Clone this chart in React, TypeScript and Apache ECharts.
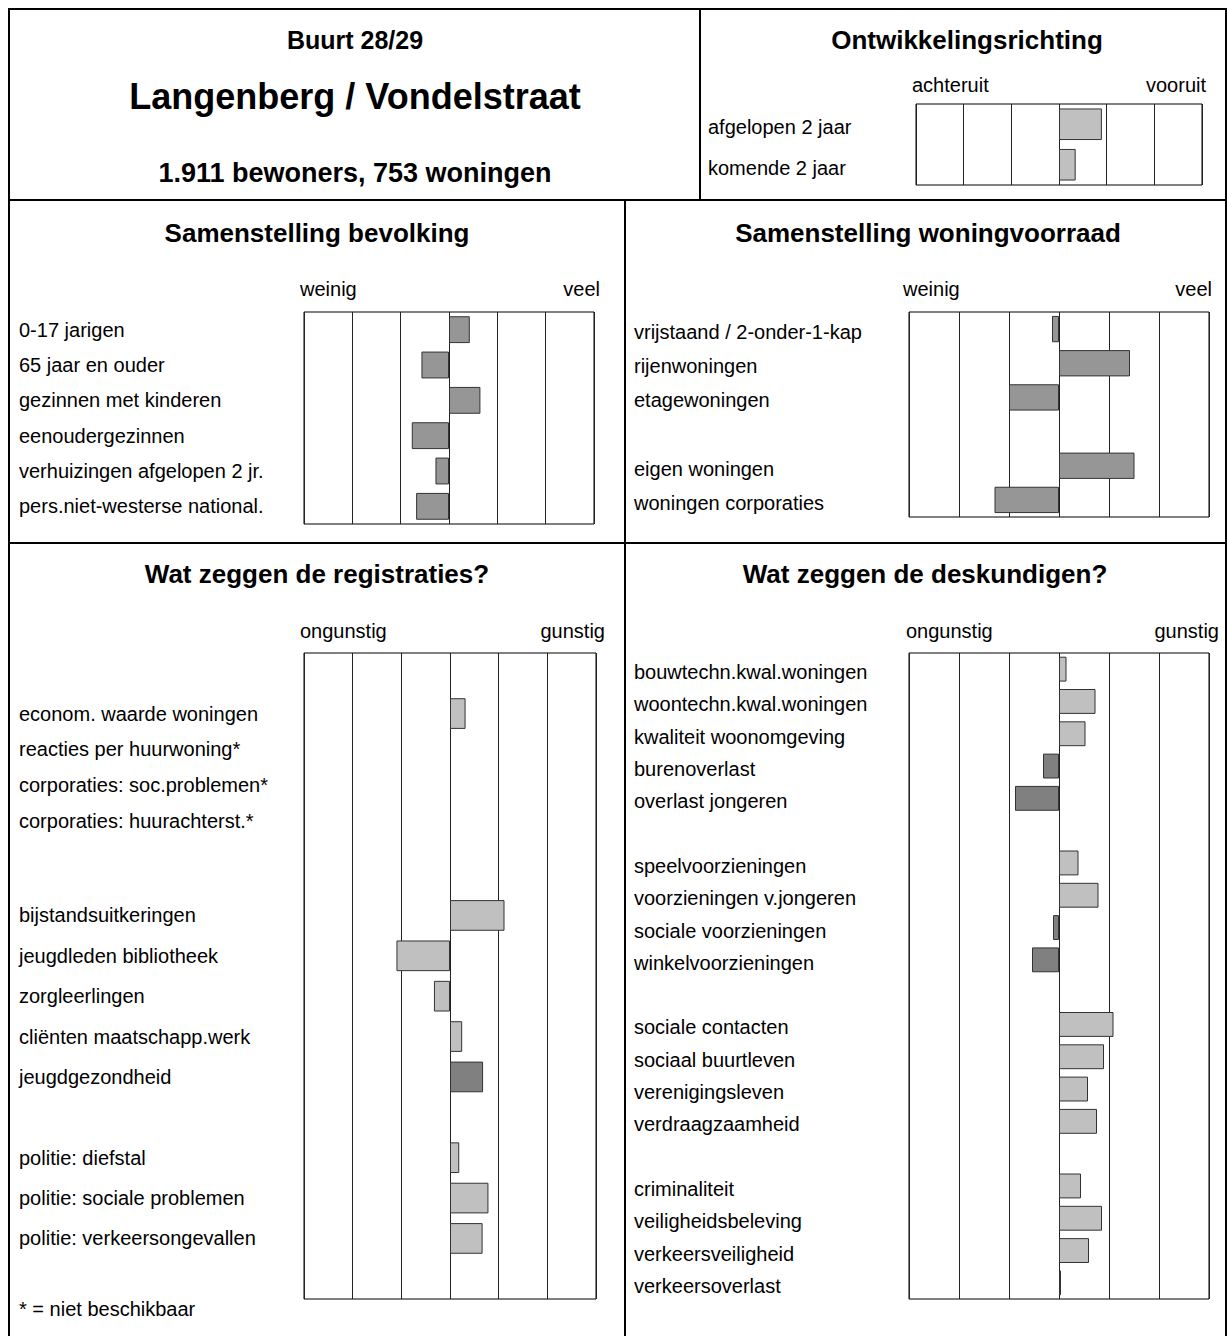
import React, { useEffect, useRef } from 'react';
import * as echarts from 'echarts';

// ---------- data ----------
const richtingCats = ['afgelopen 2 jaar', 'komende 2 jaar'];
const richtingVals = [0.9, 0.35];

const bevolkingCats = [
  '0-17 jarigen',
  '65 jaar en ouder',
  'gezinnen met kinderen',
  'eenoudergezinnen',
  'verhuizingen afgelopen 2 jr.',
  'pers.niet-westerse national.',
];
const bevolkingVals = [0.43, -0.57, 0.65, -0.77, -0.28, -0.68];

const woningCats = [
  'vrijstaand / 2-onder-1-kap',
  'rijenwoningen',
  'etagewoningen',
  '',
  'eigen woningen',
  'woningen corporaties',
];
const woningVals = [-0.14, 1.42, -1.0, null, 1.51, -1.29];

const registratieCats = [
  '',
  'econom. waarde woningen',
  'reacties per huurwoning*',
  'corporaties: soc.problemen*',
  'corporaties: huurachterst.*',
  '',
  'bijstandsuitkeringen',
  'jeugdleden bibliotheek',
  'zorgleerlingen',
  'cliënten maatschapp.werk',
  'jeugdgezondheid',
  '',
  'politie: diefstal',
  'politie: sociale problemen',
  'politie: verkeersongevallen',
  '',
];
const registratieVals = [null, 0.32, null, null, null, null, 1.12, -1.1, -0.33, 0.25, 0.68, null, 0.19, 0.79, 0.67, null];
const registratieDark = ['jeugdgezondheid'];

const deskundigenCats = [
  'bouwtechn.kwal.woningen',
  'woontechn.kwal.woningen',
  'kwaliteit woonomgeving',
  'burenoverlast',
  'overlast jongeren',
  '',
  'speelvoorzieningen',
  'voorzieningen v.jongeren',
  'sociale voorzieningen',
  'winkelvoorzieningen',
  '',
  'sociale contacten',
  'sociaal buurtleven',
  'verenigingsleven',
  'verdraagzaamheid',
  '',
  'criminaliteit',
  'veiligheidsbeleving',
  'verkeersveiligheid',
  'verkeersoverlast',
];
const deskundigenVals = [0.15, 0.73, 0.53, -0.32, -0.88, null, 0.39, 0.79, -0.12, -0.54, null, 1.09, 0.9, 0.58, 0.76, null, 0.44, 0.86, 0.6, 0.04];
const deskundigenDark = ['burenoverlast', 'overlast jongeren', 'sociale voorzieningen', 'winkelvoorzieningen'];

// ---------- layout / style ----------
const FONT = '"Liberation Sans", Arial, sans-serif';
const LABEL_SIZE = 20;
const END_SIZE = 20;
const TITLE_SIZE = 26;
const LIGHT = '#c0c0c0';
const MID = '#969696';
const DARK = '#808080';

type Panel = {
  cats: string[];
  vals: (number | null)[];
  grid: { left: number; top: number; width: number; height: number };
  labelX: number;
  labelDy: number;
  color: (name: string) => string;
  gap: string;
  lifts?: Record<number, number>;
};

const panels: Panel[] = [
  {
    cats: richtingCats,
    vals: richtingVals,
    grid: { left: 916, top: 104, width: 286, height: 81 },
    labelX: 708,
    labelDy: 3,
    color: () => LIGHT,
    gap: '22%',
  },
  {
    cats: bevolkingCats,
    vals: bevolkingVals,
    grid: { left: 304, top: 312, width: 290, height: 212 },
    labelX: 19,
    labelDy: 0,
    color: () => MID,
    gap: '24%',
  },
  {
    cats: woningCats,
    vals: woningVals,
    grid: { left: 909, top: 312, width: 300, height: 205 },
    labelX: 634,
    labelDy: 3,
    color: () => MID,
    gap: '23%',
  },
  {
    cats: registratieCats,
    vals: registratieVals,
    grid: { left: 304, top: 653, width: 292, height: 646 },
    labelX: 19,
    labelDy: 0,
    color: (n) => (registratieDark.includes(n) ? DARK : LIGHT),
    gap: '24%',
    lifts: { 2: 9, 3: 18, 4: 27 },
  },
  {
    cats: deskundigenCats,
    vals: deskundigenVals,
    grid: { left: 909, top: 653, width: 300, height: 646 },
    labelX: 634,
    labelDy: 3,
    color: (n) => (deskundigenDark.includes(n) ? DARK : LIGHT),
    gap: '23%',
  },
];

function txt(text: string, x: number, y: number, size: number, bold: boolean, align: string = 'left') {
  return {
    type: 'text',
    x,
    y,
    z: 10,
    style: {
      text,
      fill: '#000',
      fontSize: size,
      fontWeight: bold ? 'bold' : 'normal',
      fontFamily: FONT,
      align,
      verticalAlign: 'middle',
    },
  };
}

function ln(x1: number, y1: number, x2: number, y2: number) {
  return {
    type: 'line',
    z: 10,
    shape: { x1, y1, x2, y2 },
    style: { stroke: '#000', lineWidth: 2 },
  };
}

export default function App() {
  const ref = useRef<HTMLDivElement>(null);

  useEffect(() => {
    if (!ref.current) return;
    const chart = echarts.init(ref.current, null, { renderer: 'svg' });

    const grids = panels.map((p) => ({
      left: p.grid.left,
      top: p.grid.top,
      width: p.grid.width,
      height: p.grid.height,
      show: true,
      borderColor: '#000',
      borderWidth: 1,
      backgroundColor: '#fff',
      containLabel: false,
    }));

    const xAxes = panels.map((_, i) => ({
      type: 'value',
      gridIndex: i,
      min: -3,
      max: 3,
      interval: 1,
      axisLabel: { show: false },
      axisTick: { show: false },
      axisLine: { show: false },
      splitLine: { show: true, lineStyle: { color: '#222', width: 1 } },
    }));

    const yAxes = panels.map((p, i) => {
      const lifts = p.lifts || {};
      const rich: any = {
        t: { fontSize: LABEL_SIZE, fontFamily: FONT, color: '#000' },
      };
      Object.keys(lifts).forEach((k) => {
        rich['g' + k] = { fontSize: 1, lineHeight: lifts[+k] };
      });
      return {
        type: 'category',
        gridIndex: i,
        inverse: true,
        data: p.cats,
        axisLine: { show: false },
        axisTick: { show: false },
        splitLine: { show: false },
        axisLabel: {
          show: true,
          interval: 0,
          align: 'left',
          margin: p.grid.left - p.labelX,
          padding: [p.labelDy * 2, 0, 0, 0],
          fontSize: LABEL_SIZE,
          fontFamily: FONT,
          color: '#000',
          rich,
          formatter: (value: string, idx: number) => {
            if (lifts[idx]) return `{t|${value}}\n{g${idx}| }`;
            return value;
          },
        },
      };
    });

    const series = panels.map((p, i) => ({
      type: 'bar',
      xAxisIndex: i,
      yAxisIndex: i,
      barCategoryGap: p.gap,
      data: p.vals,
      itemStyle: {
        color: (params: any) => p.color(params.name),
        borderColor: '#333',
        borderWidth: 1,
      },
      silent: true,
    }));

    const graphic = [
      { type: 'rect', z: 10, shape: { x: 9, y: 9, width: 1217, height: 1340 }, style: { fill: 'none', stroke: '#000', lineWidth: 2 } },
      ln(9, 200, 1226, 200),
      ln(700, 9, 700, 200),
      ln(9, 543, 1226, 543),
      ln(625, 200, 625, 1340),

      txt('Buurt 28/29', 355, 40, 25, true, 'center'),
      txt('Langenberg / Vondelstraat', 355, 96, 36, true, 'center'),
      txt('1.911 bewoners, 753 woningen', 355, 173, 27, true, 'center'),

      txt('Ontwikkelingsrichting', 967, 40, 26, true, 'center'),
      txt('achteruit', 912, 85, END_SIZE, false, 'left'),
      txt('vooruit', 1206, 85, END_SIZE, false, 'right'),

      txt('Samenstelling bevolking', 317, 233, TITLE_SIZE, true, 'center'),
      txt('weinig', 300, 289, END_SIZE, false, 'left'),
      txt('veel', 600, 289, END_SIZE, false, 'right'),

      txt('Samenstelling woningvoorraad', 928, 233, TITLE_SIZE, true, 'center'),
      txt('weinig', 903, 289, END_SIZE, false, 'left'),
      txt('veel', 1212, 289, END_SIZE, false, 'right'),

      txt('Wat zeggen de registraties?', 317, 574, TITLE_SIZE, true, 'center'),
      txt('ongunstig', 300, 631, END_SIZE, false, 'left'),
      txt('gunstig', 605, 631, END_SIZE, false, 'right'),

      txt('Wat zeggen de deskundigen?', 925, 574, TITLE_SIZE, true, 'center'),
      txt('ongunstig', 906, 631, END_SIZE, false, 'left'),
      txt('gunstig', 1219, 631, END_SIZE, false, 'right'),

      txt('* = niet beschikbaar', 19, 1309, END_SIZE, false, 'left'),
    ];

    chart.setOption({
      animation: false,
      backgroundColor: '#fff',
      grid: grids,
      xAxis: xAxes,
      yAxis: yAxes,
      series,
      graphic,
    });

    return () => chart.dispose();
  }, []);

  return (
    <div
      ref={ref}
      style={{ position: 'absolute', left: 0, top: 0, width: 1227, height: 1336, background: '#fff' }}
    />
  );
}
